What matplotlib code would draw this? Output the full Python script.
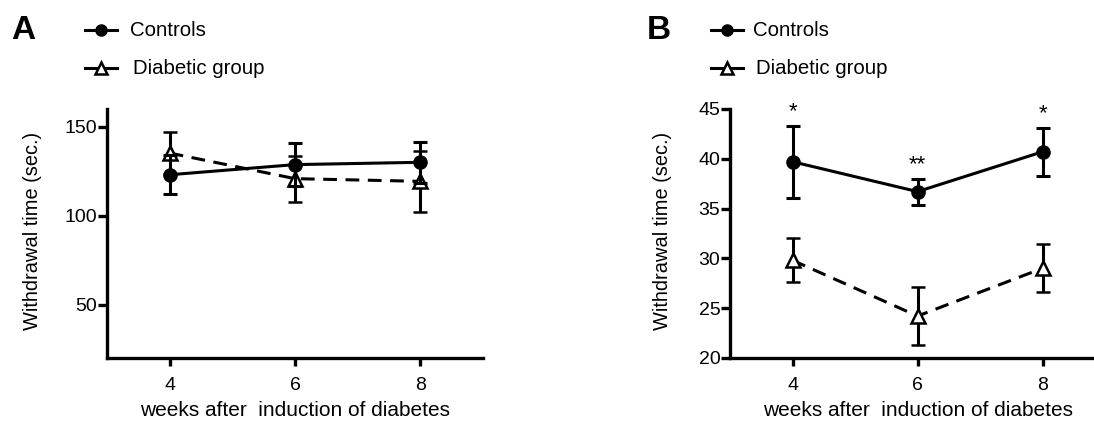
import matplotlib
matplotlib.use("Agg")
import matplotlib.pyplot as plt
from matplotlib.lines import Line2D

plt.rcParams['font.family'] = ['Liberation Sans', 'DejaVu Sans']

weeks = [4, 6, 8]
tick_labels = ["4", "6", "8"]

# Panel A
a_ctrl = [123.0, 128.7, 130.0]
a_ctrl_err = [11.0, 12.0, 11.6]
a_diab = [135.2, 120.8, 119.3]
a_diab_err = [11.6, 13.0, 17.0]

# Panel B
b_ctrl = [39.7, 36.7, 40.7]
b_ctrl_err = [3.6, 1.3, 2.4]
b_diab = [29.8, 24.2, 29.0]
b_diab_err = [2.2, 2.9, 2.4]
b_sig = ["*", "**", "*"]

fig = plt.figure(figsize=(10.94, 4.24), dpi=100)
axA = fig.add_axes([0.0978, 0.156, 0.3437, 0.587])
axB = fig.add_axes([0.6673, 0.156, 0.3428, 0.587])

lw = 2.2
def draw(ax, c, ce, d, de, ylab_x):
    ax.errorbar(weeks, c, yerr=ce, color='black', lw=lw, marker='o', ms=9.5,
                mfc='black', mec='black', capsize=5, capthick=lw, elinewidth=lw, zorder=3)
    ax.errorbar(weeks, d, yerr=de, color='black', lw=lw, ls=(0, (4.5, 2.8)), marker='^', ms=9.5,
                mfc='white', mec='black', mew=1.8, capsize=5, capthick=lw, elinewidth=lw, zorder=2)
    ax.set_xlim(3, 9)
    ax.set_xticks(weeks)
    ax.set_xticklabels(tick_labels)
    for s in ['top', 'right']:
        ax.spines[s].set_visible(False)
    for s in ['left', 'bottom']:
        ax.spines[s].set_linewidth(2.4)
    ax.tick_params(width=2.4, labelsize=14)
    ax.tick_params(axis='x', length=6, pad=8)
    ax.tick_params(axis='y', length=6.5, pad=0.5)
    ax.set_xlabel("weeks after  induction of diabetes", fontsize=15, labelpad=5)
    ax.set_ylabel("Withdrawal time (sec.)", fontsize=14.4)
    ax.yaxis.set_label_coords(ylab_x, 0.51)

draw(axA, a_ctrl, a_ctrl_err, a_diab, a_diab_err, -0.173)
axA.set_ylim(20, 160)
axA.set_yticks([50, 100, 150])

draw(axB, b_ctrl, b_ctrl_err, b_diab, b_diab_err, -0.155)
axB.set_ylim(20, 45)
axB.set_yticks([20, 25, 30, 35, 40, 45])
for x, y, e, s in zip(weeks, b_ctrl, b_ctrl_err, b_sig):
    axB.annotate(s, (x, y + e), xytext=(0, 2.5), textcoords='offset points',
                 ha='center', va='bottom', fontsize=16)

# Panel letters and legends
fig.text(0.010, 0.928, "A", fontsize=24, fontweight='bold', va='center', ha='left')
fig.text(0.591, 0.928, "B", fontsize=24, fontweight='bold', va='center', ha='left')

def legend(x0, x_text):
    y1 = 1 - 30 / 424
    y2 = 1 - 68 / 424
    fig.add_artist(Line2D([x0 - 0.0146, x0 + 0.0146], [y1, y1], color='black', lw=lw,
                          transform=fig.transFigure))
    fig.add_artist(Line2D([x0], [y1], color='black', marker='o', ms=8, transform=fig.transFigure))
    fig.add_artist(Line2D([x0 - 0.0146, x0 + 0.0146], [y2, y2], color='black', lw=lw,
                          transform=fig.transFigure))
    fig.add_artist(Line2D([x0], [y2], color='black', marker='^', ms=8, mfc='white', mec='black',
                          mew=1.8, transform=fig.transFigure))
    fig.text(x_text, y1, "Controls", fontsize=14.7, va='center', ha='left')
    fig.text(x_text + 0.003, y2, "Diabetic group", fontsize=14.7, va='center', ha='left')

legend(101 / 1094, 130 / 1094)
legend(727 / 1094, 753 / 1094)

fig.savefig("out.png", dpi=100)
